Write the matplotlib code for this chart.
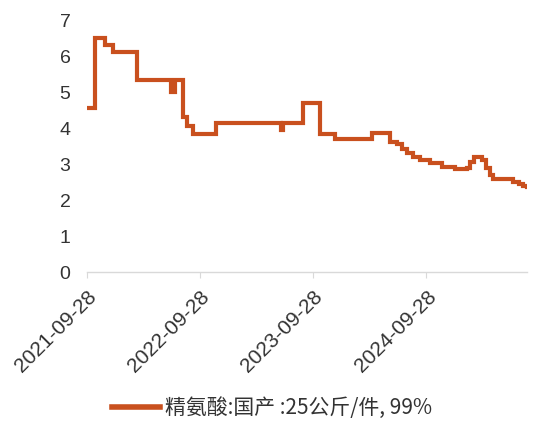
import numpy as np
import pandas as pd
import matplotlib
matplotlib.use("Agg")
import matplotlib.pyplot as plt
import matplotlib.dates as mdates

plt.rcParams['font.family'] = ['Liberation Sans', 'Noto Sans CJK SC', 'DejaVu Sans']

# change dates of the price series (step chart) and the price after each change
dates = ["2021-09-28", "2021-10-24", "2021-11-25", "2021-12-21", "2022-03-09",
         "2022-06-26", "2022-07-09", "2022-08-04", "2022-08-17", "2022-09-05",
         "2022-11-19", "2023-06-16", "2023-06-22", "2023-08-26", "2023-10-20",
         "2023-12-07", "2024-04-06", "2024-06-03", "2024-06-25", "2024-07-11",
         "2024-07-28", "2024-08-16", "2024-09-08", "2024-10-10", "2024-11-18",
         "2024-12-30", "2025-02-06", "2025-02-16", "2025-03-01", "2025-03-27",
         "2025-04-09", "2025-04-22", "2025-05-01", "2025-07-05", "2025-07-24",
         "2025-08-06", "2025-08-19"]
prices = [4.55, 6.5, 6.3, 6.12, 5.32,
          5.0, 5.32, 4.3, 4.05, 3.83,
          4.15, 3.95, 4.15, 4.7, 3.83,
          3.7, 3.85, 3.62, 3.55, 3.43,
          3.3, 3.19, 3.1, 3.02, 2.92,
          2.85, 2.9, 3.05, 3.2, 3.1,
          2.9, 2.7, 2.58, 2.5, 2.45,
          2.4, 2.35]
tick_dates = ["2021-09-28", "2022-09-28", "2023-09-28", "2024-09-28"]
series_name = "精氨酸:国产 :25公斤/件, 99%"

x = pd.to_datetime(dates)

fig = plt.figure(figsize=(5.34, 4.26), dpi=100)
ax = fig.add_axes([0.163, 0.3615, 0.824, 0.5915])

ax.plot(x, prices, drawstyle='steps-post', color='#C9501E', lw=3.0,
        label=series_name, solid_joinstyle='miter')

ax.set_ylim(0, 7)
ax.set_yticks(range(0, 8))
ax.set_xlim(x[0], x[-1])
ax.set_xticks(pd.to_datetime(tick_dates))
ax.xaxis.set_major_formatter(mdates.DateFormatter('%Y-%m-%d'))

for s in ['top', 'right', 'left']:
    ax.spines[s].set_visible(False)
ax.spines['bottom'].set_color('#D9D9D9')
ax.spines['bottom'].set_linewidth(1.0)

ax.tick_params(axis='y', length=0, labelsize=14, colors='#333333', pad=12)
ax.tick_params(axis='x', length=4, color='#D9D9D9', labelsize=15,
               labelcolor='#333333', pad=7)
for lbl in ax.get_xticklabels():
    lbl.set_rotation(45)
    lbl.set_ha('right')
    lbl.set_rotation_mode('anchor')

leg = fig.legend(loc='center', bbox_to_anchor=(0.51, 0.042), frameon=False,
                 handlelength=2.3, handletextpad=0.25,
                 prop={'family': ['Noto Sans CJK SC', 'DejaVu Sans'], 'size': 15})
for t in leg.get_texts():
    t.set_color('#333333')
for h in leg.get_lines():
    h.set_linewidth(4)

fig.savefig('out.png', dpi=100)
